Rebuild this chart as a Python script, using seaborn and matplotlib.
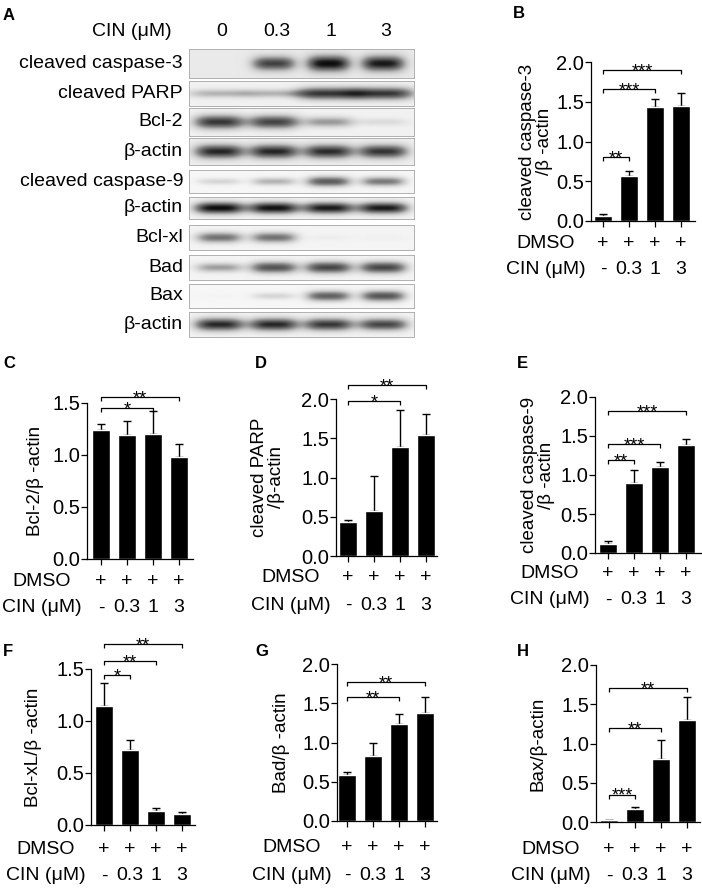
import numpy as np
import pandas as pd
import matplotlib
matplotlib.use("Agg")
import matplotlib.pyplot as plt
import seaborn as sns

# ---------------- data ----------------
lane_labels = ["0", "0.3", "1", "3"]
conc_labels = ["-", "0.3", "1", "3"]
dmso_labels = ["+", "+", "+", "+"]

blot_labels = ["cleaved caspase-3", "cleaved PARP", "Bcl-2", "β-actin",
               "cleaved caspase-9", "β-actin", "Bcl-xl", "Bad", "Bax", "β-actin"]
band_casp3 = [0.00, 0.80, 1.00, 0.95]
band_parp = [0.35, 0.35, 0.85, 0.85]
band_bcl2 = [0.85, 0.80, 0.45, 0.15]
band_actin1 = [0.90, 0.90, 0.88, 0.85]
band_casp9 = [0.22, 0.38, 0.72, 0.60]
band_actin2 = [1.00, 0.98, 0.95, 0.95]
band_bclxl = [0.62, 0.62, 0.06, 0.04]
band_bad = [0.45, 0.75, 0.80, 0.80]
band_bax = [0.02, 0.22, 0.70, 0.75]
band_actin3 = [0.90, 0.90, 0.85, 0.80]
blot_bands = [band_casp3, band_parp, band_bcl2, band_actin1, band_casp9,
              band_actin2, band_bclxl, band_bad, band_bax, band_actin3]
blot_bg = [0.16, 0.11, 0.11, 0.13, 0.07, 0.09, 0.09, 0.09, 0.07, 0.10]

casp3_mean = [0.06, 0.57, 1.43, 1.45]
casp3_err = [0.03, 0.06, 0.10, 0.16]
casp3_sig = [(0, 1, 0.81, "**"), (0, 2, 1.66, "***"), (0, 3, 1.90, "***")]

bcl2_mean = [1.24, 1.19, 1.20, 0.98]
bcl2_err = [0.06, 0.14, 0.22, 0.13]
bcl2_sig = [(0, 2, 1.45, "*"), (0, 3, 1.56, "**")]

parp_mean = [0.43, 0.57, 1.39, 1.54]
parp_err = [0.03, 0.45, 0.47, 0.27]
parp_sig = [(0, 2, 1.97, "*"), (0, 3, 2.18, "**")]

casp9_mean = [0.11, 0.90, 1.10, 1.38]
casp9_err = [0.05, 0.16, 0.07, 0.08]
casp9_sig = [(0, 1, 1.19, "**"), (0, 2, 1.40, "***"), (0, 3, 1.82, "***")]

bclxl_mean = [1.14, 0.72, 0.13, 0.11]
bclxl_err = [0.23, 0.10, 0.03, 0.015]
bclxl_sig = [(0, 1, 1.44, "*"), (0, 2, 1.58, "**"), (0, 3, 1.74, "**")]

bad_mean = [0.58, 0.83, 1.24, 1.37]
bad_err = [0.05, 0.17, 0.12, 0.21]
bad_sig = [(0, 2, 1.58, "**"), (0, 3, 1.77, "**")]

bax_mean = [0.02, 0.17, 0.80, 1.30]
bax_err = [0.01, 0.02, 0.24, 0.29]
bax_sig = [(0, 1, 0.35, "***"), (0, 2, 1.20, "**"), (0, 3, 1.71, "**")]

# ---------------- style ----------------
sns.set_theme(style="ticks", rc={
    "axes.edgecolor": "black", "axes.linewidth": 0.9,
    "xtick.color": "black", "ytick.color": "black",
    "text.color": "black", "axes.labelcolor": "black",
    "xtick.major.width": 0.9, "ytick.major.width": 0.9,
})
plt.rcParams["font.family"] = ["Liberation Sans", "DejaVu Sans"]

W, H = 702, 890
fig = plt.figure(figsize=(W / 100, H / 100), dpi=100)
PT = 0.72  # points per pixel


def add_px_axes(left, top, right, bottom):
    return fig.add_axes([left / W, 1 - bottom / H, (right - left) / W, (bottom - top) / H])


def letter(x, y, s):
    fig.text(x / W, 1 - y / H, s, fontsize=12, fontweight="bold", ha="left", va="center")


# ---------------- panel A: blots ----------------
strip_top = [49, 81, 108, 138, 170, 197, 225, 255, 284, 312]
strip_bot = [78, 106, 136, 165, 193, 219, 250, 280, 308, 337]
band_hw = [0.40, 0.58, 0.47, 0.46, 0.42, 0.47, 0.43, 0.44, 0.42, 0.46]
strip_left, strip_right = 189, 414
XL = (-0.55, 3.56)

top_ax = None
for k, (lab, inten, bg) in enumerate(zip(blot_labels, blot_bands, blot_bg)):
    ax = add_px_axes(strip_left, strip_top[k], strip_right, strip_bot[k])
    xs = np.linspace(XL[0], XL[1], 320)
    ys = np.linspace(0, 1, 60)
    X, Y = np.meshgrid(xs, ys)
    D = np.full_like(X, bg)
    for i, v in enumerate(inten):
        hx = np.exp(-np.abs((X - i) / band_hw[k]) ** 3.5)
        sy = 0.12 + 0.16 * v
        vy = np.exp(-((Y - 0.5) / sy) ** 2)
        D += (0.96 - bg) * v * hx * vy
    ax.imshow(np.clip(D, 0, 1), extent=(XL[0], XL[1], 0, 1), aspect="auto",
              cmap="Greys", vmin=0, vmax=1, interpolation="bilinear", origin="lower")
    ax.set_xlim(*XL)
    ax.set_ylim(0, 1)
    ax.set_xticks([])
    ax.set_yticks([])
    for s in ax.spines.values():
        s.set_color("#b0b0b0")
        s.set_linewidth(0.7)
    fig.text(183 / W, 1 - (strip_top[k] + strip_bot[k]) / 2 / H, lab,
             ha="right", va="center", fontsize=14)
    if k == 0:
        top_ax = ax

for i, t in enumerate(lane_labels):
    top_ax.annotate(t, xy=(i, 1), xycoords=("data", "axes fraction"),
                    xytext=(2, (49 - 32) * PT), textcoords="offset points",
                    ha="center", va="center", fontsize=14)
fig.text(132 / W, 1 - 32 / H, "CIN (μM)", ha="center", va="center", fontsize=14)
letter(3, 15, "A")

# ---------------- bar panels ----------------
panels = [
    dict(L="B", lx=513, ly=13, m=casp3_mean, e=casp3_err, sig=casp3_sig,
         yl="cleaved caspase-3\n/β -actin", box=(591, 62, 695, 221), x0=603, ymax=2.0,
         labx=536, dm=22, ci=48),
    dict(L="C", lx=3, ly=363, m=bcl2_mean, e=bcl2_err, sig=bcl2_sig,
         yl="Bcl-2/β -actin", box=(87, 403, 193, 559), x0=101, ymax=1.5,
         labx=35, dm=23, ci=49),
    dict(L="D", lx=255, ly=363, m=parp_mean, e=parp_err, sig=parp_sig,
         yl="cleaved PARP\n/β-actin", box=(336, 399, 437, 556), x0=348, ymax=2.0,
         labx=268, dm=22, ci=49),
    dict(L="E", lx=517, ly=363, m=casp9_mean, e=casp9_err, sig=casp9_sig,
         yl="cleaved caspase-9\n/β -actin", box=(595, 397, 702, 553), x0=608, ymax=2.0,
         labx=538, dm=20, ci=47),
    dict(L="F", lx=3, ly=652, m=bclxl_mean, e=bclxl_err, sig=bclxl_sig,
         yl="Bcl-xL/β -actin", box=(91, 669, 195, 825), x0=104, ymax=1.5,
         labx=33, dm=24, ci=51),
    dict(L="G", lx=255, ly=652, m=bad_mean, e=bad_err, sig=bad_sig,
         yl="Bad/β -actin", box=(337, 664, 437, 821), x0=347, ymax=2.0,
         labx=282, dm=26, ci=54),
    dict(L="H", lx=517, ly=652, m=bax_mean, e=bax_err, sig=bax_sig,
         yl="Bax/β-actin", box=(596, 665, 700, 822), x0=609, ymax=2.0,
         labx=538, dm=27, ci=54),
]

SP = 26.0  # px per bar slot
for p in panels:
    left, top, right, bottom = p["box"]
    ax = add_px_axes(left, top, right, bottom)
    df = pd.DataFrame({"conc": conc_labels, "value": p["m"]})
    sns.barplot(data=df, x="conc", y="value", color="black", saturation=1,
                width=0.68, errorbar=None, ax=ax, zorder=2)
    xpos = np.arange(len(p["m"]))
    ax.errorbar(xpos, p["m"], yerr=[np.zeros(len(p["e"])), p["e"]], fmt="none",
                ecolor="black", elinewidth=1.0, capsize=3.2, capthick=1.0, zorder=1)
    ax.set_xlim((left - p["x0"]) / SP, (right - p["x0"]) / SP)
    ax.set_ylim(0, p["ymax"])
    ax.set_yticks(np.arange(0, p["ymax"] + 0.01, 0.5))
    ax.set_yticklabels([f"{v:.1f}" for v in np.arange(0, p["ymax"] + 0.01, 0.5)])
    ax.set_xticks(xpos)
    ax.set_xticklabels([])
    ax.set_xlabel("")
    ax.tick_params(axis="y", length=4, width=0.9, pad=1, labelsize=14.5)
    ax.tick_params(axis="x", length=4.5, width=0.9)
    sns.despine(ax=ax)
    ax.set_ylabel(p["yl"], fontsize=13.5, linespacing=1.05)
    ax.yaxis.set_label_coords((p["labx"] - left) / (right - left), 0.5)
    ax.yaxis.label.set_va("center")

    px_per_unit = (bottom - top) / p["ymax"]
    t = 4 / px_per_unit
    for i, j, y, s in p["sig"]:
        ax.plot([i, i, j, j], [y - t, y, y, y - t], color="black", lw=0.9,
                clip_on=False, solid_capstyle="butt")
        ax.annotate(s, xy=((i + j) / 2, y), xycoords="data", xytext=(0, -4.6),
                    textcoords="offset points", ha="center", va="baseline",
                    fontsize=13, annotation_clip=False)

    for i, (d, c) in enumerate(zip(dmso_labels, conc_labels)):
        ax.annotate(d, xy=(i, 0), xycoords="data", xytext=(0, -p["dm"] * PT),
                    textcoords="offset points", ha="center", va="center", fontsize=14,
                    annotation_clip=False)
        ax.annotate(c, xy=(i, 0), xycoords="data", xytext=(0, -p["ci"] * PT),
                    textcoords="offset points", ha="center", va="center", fontsize=14,
                    annotation_clip=False)
    ax.annotate("DMSO", xy=(0, 0), xycoords="axes fraction", xytext=(-45 * PT, -p["dm"] * PT),
                textcoords="offset points", ha="center", va="center", fontsize=14)
    ax.annotate("CIN (μM)", xy=(0, 0), xycoords="axes fraction", xytext=(-45 * PT, -p["ci"] * PT),
                textcoords="offset points", ha="center", va="center", fontsize=14)
    letter(p["lx"], p["ly"], p["L"])

fig.savefig("out.png", dpi=100, facecolor="white")
